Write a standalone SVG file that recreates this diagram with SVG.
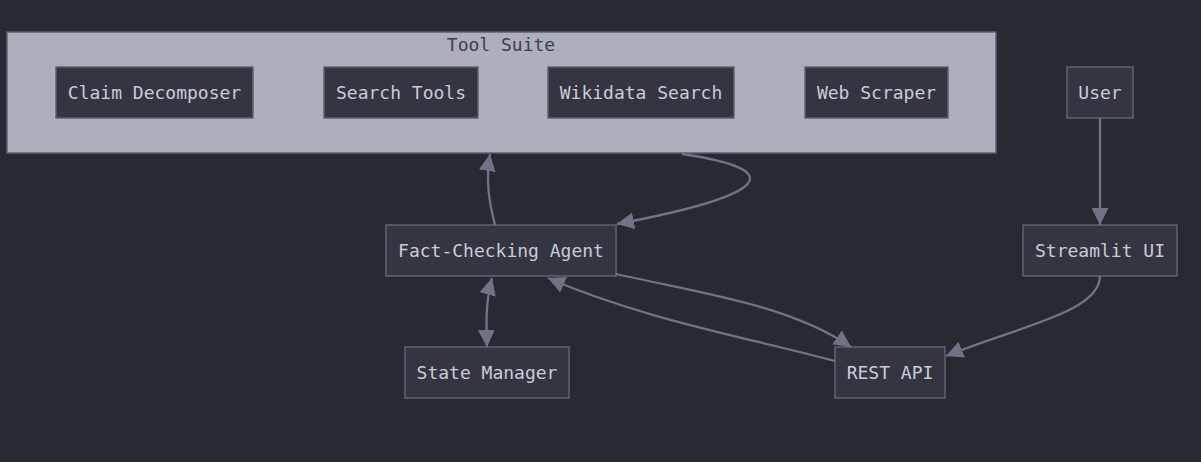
<svg xmlns="http://www.w3.org/2000/svg" width="1201" height="462" viewBox="0 0 1201 462">
<style>
.node rect{fill:#333640;stroke:#5f6370;stroke-width:1.5}
.node text{font-family:"DejaVu Sans Mono","Liberation Mono",monospace;font-size:18px;fill:#c9ccd5;text-anchor:middle}
.edge{fill:none;stroke:#6e7385;stroke-width:2.3}
.cluster rect{fill:#adb0bc;stroke:#5c6070;stroke-width:1.5}
.cluster text{font-family:"DejaVu Sans Mono","Liberation Mono",monospace;font-size:18px;fill:#3d404a;text-anchor:middle}
</style>
<defs>
<marker id="arr" viewBox="0 0 10 10" refX="10" refY="5" markerWidth="17" markerHeight="17" markerUnits="userSpaceOnUse" orient="auto-start-reverse">
<path d="M0,0 L10,5 L0,10 z" fill="#6e7385"/>
</marker>
</defs>
<rect width="1201" height="462" fill="#272a30"/>
<g id="tool-suite" class="cluster">
<rect x="7" y="32" width="989" height="121"/>
<text x="501" y="51">Tool Suite</text>
</g>
<g id="claim-decomposer" class="node"><rect x="56" y="67" width="197" height="51"/><text x="154.5" y="99">Claim Decomposer</text></g>
<g id="search-tools" class="node"><rect x="324" y="67" width="154" height="51"/><text x="401" y="99">Search Tools</text></g>
<g id="wikidata-search" class="node"><rect x="548" y="67" width="186" height="51"/><text x="641" y="99">Wikidata Search</text></g>
<g id="web-scraper" class="node"><rect x="805" y="67" width="143" height="51"/><text x="876.5" y="99">Web Scraper</text></g>
<g id="user" class="node"><rect x="1067" y="67" width="66" height="51"/><text x="1100" y="99">User</text></g>
<g id="streamlit-ui" class="node"><rect x="1023" y="225" width="154" height="51"/><text x="1100" y="257">Streamlit UI</text></g>
<g id="fact-checking-agent" class="node"><rect x="386" y="225" width="230" height="51"/><text x="501" y="257">Fact-Checking Agent</text></g>
<g id="state-manager" class="node"><rect x="405" y="347" width="164" height="51"/><text x="487" y="379">State Manager</text></g>
<g id="rest-api" class="node"><rect x="835" y="347" width="110" height="51"/><text x="890" y="379">REST API</text></g>
<g id="connectors">
<path class="edge" d="M495,225 C488,198 486,178 490,154" marker-end="url(#arr)"/>
<path class="edge" d="M682,154 C790,170 770,195 617,224" marker-end="url(#arr)"/>
<path class="edge" d="M492,278 C486,300 486,320 487,347" marker-start="url(#arr)" marker-end="url(#arr)"/>
<path class="edge" d="M616,274 C700,293 790,305 851,347" marker-end="url(#arr)"/>
<path class="edge" d="M835,361 C740,336 640,318 548,278" marker-end="url(#arr)"/>
<path class="edge" d="M1100,276 C1100,312 1020,326 946,356" marker-end="url(#arr)"/>
<path class="edge" d="M1100,118 L1100,225" marker-end="url(#arr)"/>
</g>
</svg>
